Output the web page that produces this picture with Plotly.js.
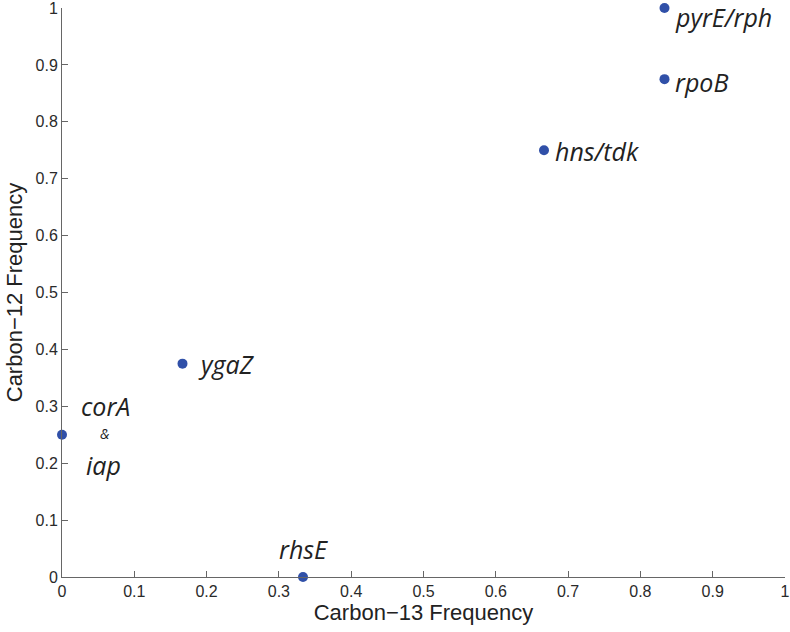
<!DOCTYPE html>
<html>
<head>
<meta charset="utf-8">
<script src="https://cdn.plot.ly/plotly-3.0.1.min.js"></script>
<style>
  html, body { margin: 0; padding: 0; background: #ffffff; }
  #chart { width: 790px; height: 632px; }
</style>
</head>
<body>
<div id="chart"></div>
<script>
// Frecuencia de cada gen en Carbono-13 vs Carbono-12
const carbon13 = [0, 1 / 6, 1 / 3, 2 / 3, 5 / 6, 5 / 6];
const carbon12 = [0.25, 0.375, 0, 0.75, 0.875, 1.0];

// Etiquetas de los puntos (texto y punto al que se pegan)
const labelText = ['pyrE/rph', 'rpoB', 'hns/tdk', 'ygaZ', 'corA', '&', 'iap', 'rhsE'];
const labelPoint = [5, 4, 3, 1, 0, 0, 0, 2];

const ticks = [0, 0.1, 0.2, 0.3, 0.4, 0.5, 0.6, 0.7, 0.8, 0.9, 1];
const tickText = ['0', '0.1', '0.2', '0.3', '0.4', '0.5', '0.6', '0.7', '0.8', '0.9', '1'];

const LABEL_FONT = 'Open Sans, sans-serif';
const AXIS_FONT = 'Liberation Sans, Arial, sans-serif';

// desplazamientos en píxeles de cada etiqueta respecto a su punto
const labelOffsets = [
  { xanchor: 'left', xshift: 9, yshift: -9 },
  { xanchor: 'left', xshift: 9, yshift: -3 },
  { xanchor: 'left', xshift: 10, yshift: -1 },
  { xanchor: 'left', xshift: 14, yshift: 0 },
  { xanchor: 'center', xshift: 43, yshift: 29 },
  { xanchor: 'center', xshift: 43, yshift: 1 },
  { xanchor: 'center', xshift: 41, yshift: -30 },
  { xanchor: 'center', xshift: 0, yshift: 28 },
];

const annotations = labelText.map((t, i) => {
  const p = labelPoint[i];
  const o = labelOffsets[i];
  const small = t === '&';
  return {
    x: carbon13[p],
    y: carbon12[p],
    xref: 'x',
    yref: 'y',
    text: t,
    showarrow: false,
    xanchor: o.xanchor,
    yanchor: 'middle',
    xshift: o.xshift,
    yshift: o.yshift,
    borderpad: 0,
    font: { family: LABEL_FONT, size: small ? 14 : 25, color: '#222222', style: 'italic' },
  };
});

const puntos = {
  type: 'scatter',
  mode: 'markers',
  x: carbon13,
  y: carbon12,
  marker: { color: '#3050a8', size: 10 },
  cliponaxis: false,
  hoverinfo: 'x+y',
};

const ejeComun = {
  range: [0, 1],
  tickvals: ticks,
  ticktext: tickText,
  ticks: 'inside',
  ticklen: 6,
  tickcolor: '#666666',
  showline: true,
  linecolor: '#666666',
  linewidth: 1,
  showgrid: false,
  zeroline: false,
  ticklabeloverflow: 'allow',
  tickfont: { family: AXIS_FONT, size: 16, color: '#2a2a2a' },
  fixedrange: true,
};

const layout = {
  width: 790,
  height: 632,
  margin: { l: 62, r: 5, t: 8, b: 55 },
  paper_bgcolor: '#ffffff',
  plot_bgcolor: '#ffffff',
  showlegend: false,
  xaxis: Object.assign({}, ejeComun, {
    title: { text: 'Carbon\u221213 Frequency', standoff: 0, font: { family: AXIS_FONT, size: 22, color: '#222222' } },
  }),
  yaxis: Object.assign({}, ejeComun, {
    title: { text: 'Carbon\u221212 Frequency', standoff: 6, font: { family: AXIS_FONT, size: 22, color: '#222222' } },
  }),
  annotations: annotations,
};

Plotly.newPlot('chart', [puntos], layout, { displayModeBar: false, staticPlot: true });
</script>
</body>
</html>
